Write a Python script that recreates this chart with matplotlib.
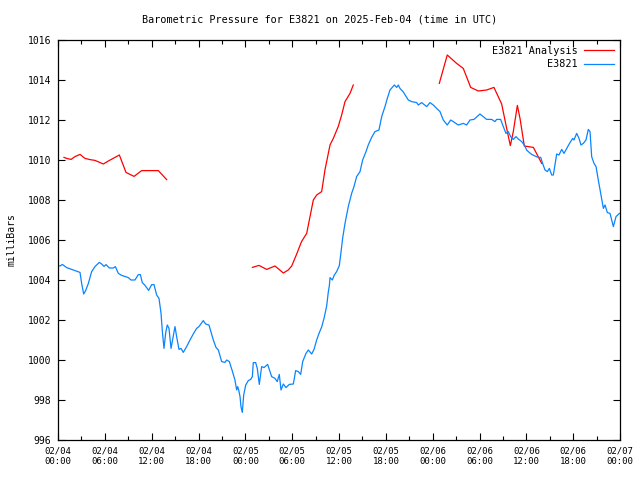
import numpy as np
import pandas as pd
import matplotlib
matplotlib.use("Agg")
import matplotlib.pyplot as plt
import matplotlib.dates as mdates

# ---------------------------------------------------------------------------
# Data (hours since 2025-02-04 00:00 UTC, pressure in mb)
# ---------------------------------------------------------------------------
START = pd.Timestamp("2025-02-04 00:00")

obs_hours = [
    0.05, 0.26, 0.56, 1.11, 1.96, 2.82, 3.03, 3.29, 3.54, 3.89, 4.31, 4.74,
    5.29, 5.59, 5.89, 6.15, 6.58, 7.09, 7.35, 7.73, 8.16, 9.01, 9.35, 9.86,
    10.29, 10.55, 10.80, 11.15, 11.61, 12.00, 12.30, 12.64, 12.94, 13.20, 13.37, 13.58,
    13.80, 14.00, 14.22, 14.48, 14.77, 14.99, 15.20, 15.50, 15.76, 16.05, 16.48, 16.91,
    17.33, 17.76, 18.06, 18.61, 18.92, 19.34, 19.90, 20.24, 20.54, 20.97, 21.39, 21.61,
    21.95, 22.33, 22.67, 22.89, 23.02, 23.15, 23.32, 23.44, 23.61, 23.79, 24.05, 24.38,
    24.69, 24.90, 25.02, 25.32, 25.53, 25.79, 26.09, 26.39, 26.86, 27.16, 27.37, 27.80,
    28.09, 28.35, 28.57, 28.87, 29.21, 29.63, 30.15, 30.45, 30.79, 31.09, 31.35, 31.77,
    32.07, 32.50, 32.80, 33.14, 33.48, 33.78, 34.08, 34.42, 34.63, 34.76, 34.85, 35.14,
    35.40, 35.70, 36.04, 36.26, 36.47, 36.77, 37.19, 37.62, 37.92, 38.26, 38.69, 39.03,
    39.46, 39.75, 40.18, 40.61, 41.12, 41.47, 41.89, 42.19, 42.53, 43.09, 43.39, 43.60,
    43.81, 44.24, 44.88, 45.31, 45.95, 46.16, 46.59, 47.23, 47.66, 48.08, 48.51, 48.94,
    49.36, 49.87, 50.31, 50.64, 51.28, 51.92, 52.35, 52.78, 53.29, 54.06, 54.48, 54.92,
    55.56, 55.98, 56.20, 56.71, 57.05, 57.39, 57.69, 57.99, 58.33, 58.67, 58.97, 59.40,
    59.74, 60.04, 60.25, 60.68, 61.11, 61.53, 61.84, 62.09, 62.39, 62.69, 62.95, 63.25,
    63.46, 63.67, 63.89, 64.18, 64.53, 64.82, 65.17, 65.59, 65.94, 66.10, 66.45, 66.75,
    67.00, 67.30, 67.64, 67.94, 68.16, 68.37, 68.67, 68.93, 69.22, 69.53, 69.87, 70.08,
    70.38, 70.72, 71.15, 71.49, 71.92,
]
obs_mb = [
    1004.72, 1004.70, 1004.78, 1004.62, 1004.50, 1004.38, 1003.83, 1003.30, 1003.47, 1003.83, 1004.42, 1004.67,
    1004.88, 1004.80, 1004.68, 1004.77, 1004.60, 1004.60, 1004.67, 1004.33, 1004.23, 1004.12, 1004.00, 1004.00,
    1004.27, 1004.27, 1003.87, 1003.73, 1003.48, 1003.77, 1003.77, 1003.25, 1003.08, 1002.33, 1001.42, 1000.58,
    1001.37, 1001.75, 1001.58, 1000.58, 1001.20, 1001.67, 1001.17, 1000.53, 1000.58, 1000.38, 1000.67, 1001.00,
    1001.30, 1001.58, 1001.67, 1001.97, 1001.80, 1001.75, 1001.00, 1000.63, 1000.50, 999.92, 999.88, 1000.00,
    999.92, 999.45, 999.00, 998.50, 998.67, 998.50, 998.17, 997.67, 997.38, 998.25, 998.75, 998.97,
    999.03, 999.17, 999.87, 999.87, 999.58, 998.78, 999.67, 999.62, 999.78, 999.42, 999.17, 999.08,
    998.92, 999.28, 998.50, 998.80, 998.62, 998.78, 998.80, 999.47, 999.42, 999.28, 999.92, 1000.33,
    1000.50, 1000.30, 1000.53, 1001.00, 1001.37, 1001.65, 1002.08, 1002.70, 1003.40, 1003.70, 1004.12, 1004.00,
    1004.25, 1004.42, 1004.72, 1005.40, 1006.10, 1006.83, 1007.67, 1008.33, 1008.67, 1009.17, 1009.42, 1010.00,
    1010.42, 1010.75, 1011.13, 1011.42, 1011.50, 1012.17, 1012.67, 1013.08, 1013.50, 1013.75, 1013.63, 1013.75,
    1013.58, 1013.40, 1013.00, 1012.92, 1012.87, 1012.75, 1012.87, 1012.67, 1012.87, 1012.75, 1012.58, 1012.42,
    1012.00, 1011.75, 1012.00, 1011.92, 1011.75, 1011.83, 1011.75, 1012.00, 1012.03, 1012.30, 1012.17, 1012.03,
    1012.03, 1011.92, 1012.03, 1012.03, 1011.67, 1011.33, 1011.42, 1011.17, 1011.03, 1011.17, 1011.05, 1010.92,
    1010.75, 1010.50, 1010.42, 1010.28, 1010.20, 1010.13, 1010.13, 1009.83, 1009.50, 1009.42, 1009.58, 1009.25,
    1009.25, 1009.75, 1010.30, 1010.25, 1010.53, 1010.33, 1010.58, 1010.87, 1011.08, 1011.00, 1011.33, 1011.08,
    1010.75, 1010.83, 1011.00, 1011.53, 1011.42, 1010.17, 1009.83, 1009.67, 1009.00, 1008.33, 1007.58, 1007.75,
    1007.37, 1007.33, 1006.67, 1007.17, 1007.33,
]

# analysis series has gaps (NaN breaks the line)
ana_hours = [
    0.77, 1.11, 1.67, 2.18, 2.82, 3.46, 4.10, 4.74, 5.81, 6.45, 7.30, 7.86,
    8.71, 9.74, 10.72, 12.85, 13.92,
    18.00,
    24.90, 25.75, 26.73, 27.80, 28.87, 29.50, 29.94, 30.58, 31.20, 31.86, 32.71, 33.14,
    33.78, 34.20, 34.85, 35.27, 35.90, 36.34, 36.77, 37.41, 37.83,
    43.00,
    48.85, 49.87, 51.07, 51.92, 52.87, 53.85, 54.92, 55.85, 56.84, 57.48, 57.95, 58.33,
    58.85, 59.19, 59.74, 60.90, 61.41, 61.97,
]
ana_mb = [
    1010.13, 1010.08, 1010.03, 1010.17, 1010.28, 1010.08, 1010.02, 1009.98, 1009.80, 1009.95, 1010.13, 1010.25,
    1009.38, 1009.18, 1009.47, 1009.47, 1009.02,
    np.nan,
    1004.63, 1004.73, 1004.53, 1004.70, 1004.35, 1004.50, 1004.70, 1005.30, 1005.92, 1006.33, 1008.00, 1008.25,
    1008.42, 1009.50, 1010.75, 1011.08, 1011.67, 1012.25, 1012.92, 1013.33, 1013.75,
    np.nan,
    1013.83, 1015.25, 1014.83, 1014.58, 1013.63, 1013.45, 1013.50, 1013.63, 1012.80, 1011.58, 1010.72, 1011.42,
    1012.73, 1012.08, 1010.70, 1010.63, 1010.25, 1009.83,
]

STATION = "E3821"
TITLE = "Barometric Pressure for E3821 on 2025-Feb-04 (time in UTC)"
FONT = "DejaVu Sans Mono"


def to_times(hours):
    return START + pd.to_timedelta(np.asarray(hours), unit="h")


def main():
    plt.rcParams["font.family"] = FONT
    plt.rcParams["font.size"] = 7

    fig = plt.figure(figsize=(6.4, 4.8), dpi=100)
    ax = fig.add_axes([58 / 640, 40 / 480, 562 / 640, 400 / 480])

    ax.plot(to_times(ana_hours), ana_mb, color="#ff0000", lw=0.9,
            label=f"{STATION} Analysis")
    ax.plot(to_times(obs_hours), obs_mb, color="#0a84ff", lw=0.9,
            label=STATION)

    ax.set_xlim(START, START + pd.Timedelta(hours=72))
    ax.set_ylim(996, 1016)
    ax.set_yticks(np.arange(996, 1017, 2))

    ax.xaxis.set_major_locator(mdates.HourLocator(byhour=range(0, 24, 6)))
    ax.xaxis.set_minor_locator(mdates.HourLocator(byhour=range(0, 24, 3)))
    ax.xaxis.set_major_formatter(mdates.DateFormatter("%m/%d\n%H:%M"))

    ax.tick_params(which="both", direction="in", top=True, right=True,
                   color="black", width=0.8)
    ax.tick_params(which="major", length=5, pad=5)
    ax.tick_params(which="minor", length=3)
    ax.tick_params(axis="x", labelsize=6.5)
    ax.tick_params(axis="y", labelsize=7)
    for s in ax.spines.values():
        s.set_linewidth(0.9)

    # y label sits near the left edge, like the gnuplot original
    fig.text(12 / 640, 0.5, "milliBars", rotation=90, ha="center",
             va="center", fontsize=7)
    fig.text(0.5, 1 - 20 / 480, TITLE, ha="center", va="center", fontsize=7.3)

    ax.legend(loc="upper right", frameon=False, markerfirst=False,
              handlelength=3.0, handletextpad=0.6, labelspacing=0.35,
              borderaxespad=0.15, fontsize=7.3)

    fig.savefig("out.png", dpi=100)
    plt.close(fig)


if __name__ == "__main__":
    main()
